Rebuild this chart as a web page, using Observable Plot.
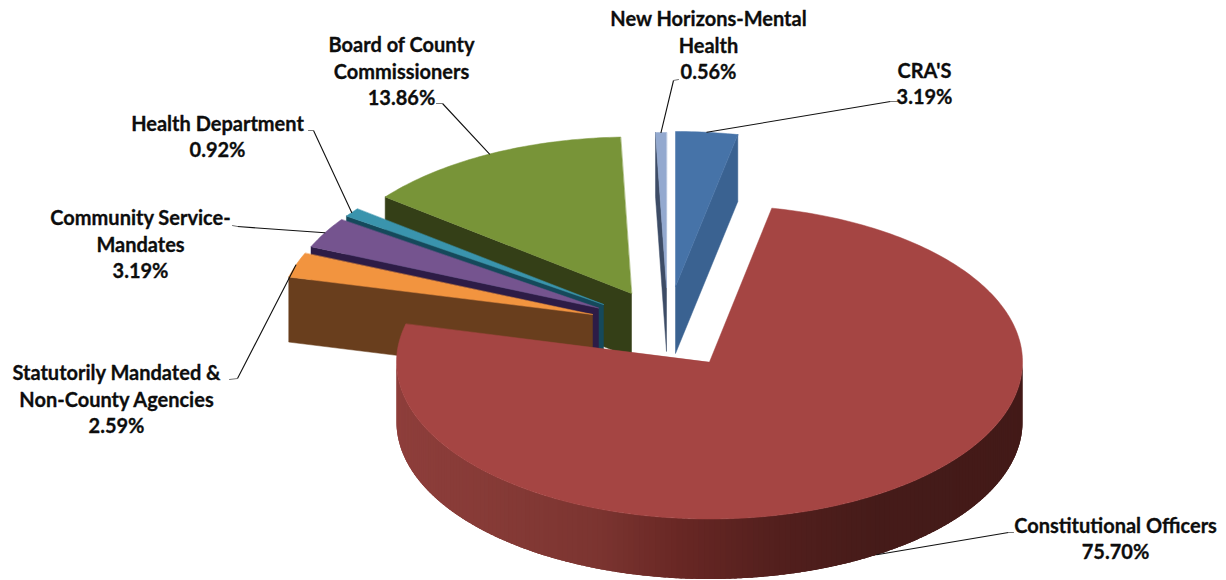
<!DOCTYPE html>
<html>
<head>
<meta charset="utf-8">
<style>html,body{margin:0;padding:0;background:#fff;overflow:hidden}svg{display:block}</style>
<script src="https://cdn.jsdelivr.net/npm/d3@7"></script>
<script src="https://cdn.jsdelivr.net/npm/@observablehq/plot@0.6"></script>
</head>
<body>
<script>
// DATA
const categories = ["CRA'S", "Constitutional Officers", "Statutorily Mandated & Non-County Agencies", "Community Service-Mandates", "Health Department", "Board of County Commissioners", "New Horizons-Mental Health"];
const shares = [3.19, 75.70, 2.59, 3.19, 0.92, 13.86, 0.56];
const labelLines = [["CRA'S"], ["Constitutional Officers"], ["Statutorily Mandated &", "Non-County Agencies"], ["Community Service-", "Mandates"], ["Health Department"], ["Board of County", "Commissioners"], ["New Horizons-Mental", "Health"]];

// LAYOUT & STYLE (separate from the data)
const W = 1226, H = 580, RX = 313;
const radiiY = [155, 157, 155, 155, 155, 156.5, 155];
const apexes = [[675, 286], [709, 361.5], [592, 314], [598, 307.5], [603, 304], [631, 293], [666, 287]];
const depths = [67, 60, 65, 64, 64, 64, 64];
const tops = ["#4673a8", "#a54543", "#f2943f", "#75548f", "#3a94ad", "#789438", "#93a9cf"];
const sides = ["#3a6291", "#a54543", "#693e1d", "#2d1c46", "#15495b", "#343f17", "#3d4c66"];
const labelCenters = [[924, 82], [1115, 537], [116, 397.5], [140, 242.5], [217, 135], [401, 69.5], [708, 43.5]];
const leaderElbows = [[[890, 101], [897, 101]], [[1008, 532], [1013, 532]], [[237, 378], [229, 379]], [[237, 226], [232, 225]], [[313, 130], [308, 130]], [[442, 103], [436, 103]], [[673, 80], [678, 79]]];
const paintOrder = [5, 4, 3, 2, 6, 0];
const wallRamp = d3.scaleLinear()
  .domain([396, 500, 600, 680, 780, 880, 1022])
  .range(["#8e3e3b", "#853a36", "#7b3430", "#682724", "#521f1d", "#451b19", "#431a18"]);

// GEOMETRY derived from the shares
const rad = d => d * Math.PI / 180;
const total = d3.sum(shares);
let run = 0;
const slices = shares.map((v, i) => {
  const a0 = run / total * 360; run += v; const a1 = run / total * 360;
  return {i, a0, a1, ax: apexes[i][0], ay: apexes[i][1], d: depths[i], ry: radiiY[i]};
});
const rim = (s, a, dz = 0) => [s.ax + RX * Math.sin(rad(a)), s.ay - s.ry * Math.cos(rad(a)) + dz];
const arc = (s, a0, a1, dz = 0) => {
  const n = Math.max(2, Math.ceil(Math.abs(a1 - a0)));
  return d3.range(n + 1).map(k => rim(s, a0 + (a1 - a0) * k / n, dz));
};

let pid = 0;
const pushPoly = (rows, pts, color) => { pid++; pts.forEach(p => rows.push({id: pid, x: p[0], y: p[1], color})); };

const backRows = [];
for (const i of paintOrder) {
  const s = slices[i];
  const r = rim(s, i === 0 ? s.a1 : s.a0);
  pushPoly(backRows, [r, [r[0], r[1] + s.d], [s.ax, s.ay + s.d], [s.ax, s.ay]], sides[i]);
  pushPoly(backRows, [[s.ax, s.ay], ...arc(s, s.a0, s.a1)], tops[i]);
}

// outer wall of the big slice: overlapping strips shaded along x
const big = slices[1];
const wallRows = [];
for (let a = 90; a < 270; a += 1) {
  const strip = arc(big, a, Math.min(a + 2.5, 270));
  const bottom = strip.map(p => [p[0], p[1] + big.d]).reverse();
  const xm = rim(big, a + 0.5)[0];
  pushPoly(wallRows, [...strip, ...bottom], wallRamp(xm));
}
const bigTopRows = [];
pushPoly(bigTopRows, [[big.ax, big.ay], ...arc(big, big.a0, big.a1)], tops[1]);

const leaderRows = [], stubRows = [];
slices.forEach(s => {
  const mid = (s.a0 + s.a1) / 2;
  const start = rim(s, mid, s.i === 1 ? s.d : 0);
  const [elbow, stubEnd] = leaderElbows[s.i];
  [start, elbow].forEach(p => leaderRows.push({id: s.i, x: p[0], y: p[1]}));
  [elbow, stubEnd].forEach(p => stubRows.push({id: s.i, x: p[0], y: p[1]}));
});

const labelRows = slices.map(s => ({
  x: labelCenters[s.i][0], y: labelCenters[s.i][1],
  text: [...labelLines[s.i], shares[s.i].toFixed(2) + "%"].join("\n")
}));

const chart = Plot.plot({
  width: W, height: H,
  margin: 0,
  x: {domain: [0, W], range: [0, W], axis: null},
  y: {domain: [0, H], range: [0, H], axis: null},
  color: {type: "identity"},
  marks: [
    Plot.line(backRows, {x: "x", y: "y", z: "id", fill: "color", stroke: "color", strokeWidth: 0.5, curve: "linear-closed"}),
    Plot.line(wallRows, {x: "x", y: "y", z: "id", fill: "color", stroke: "none", curve: "linear-closed"}),
    Plot.line(bigTopRows, {x: "x", y: "y", z: "id", fill: "color", stroke: "color", strokeWidth: 0.5, curve: "linear-closed"}),
    Plot.line(leaderRows, {x: "x", y: "y", z: "id", stroke: "#111", strokeWidth: 1.1}),
    Plot.line(stubRows, {x: "x", y: "y", z: "id", stroke: "#777", strokeWidth: 1.1}),
    Plot.text(labelRows, {x: "x", y: "y", text: "text", textAnchor: "middle", lineAnchor: "middle", lineHeight: 1.33,
      fontFamily: "Lato, sans-serif", fontWeight: 700, fontSize: 20, fill: "#0d0d0d", stroke: "#0d0d0d", strokeWidth: 0.3})
  ],
  style: {background: "#fff", overflow: "visible"}
});
document.body.appendChild(chart);
</script>
</body>
</html>
